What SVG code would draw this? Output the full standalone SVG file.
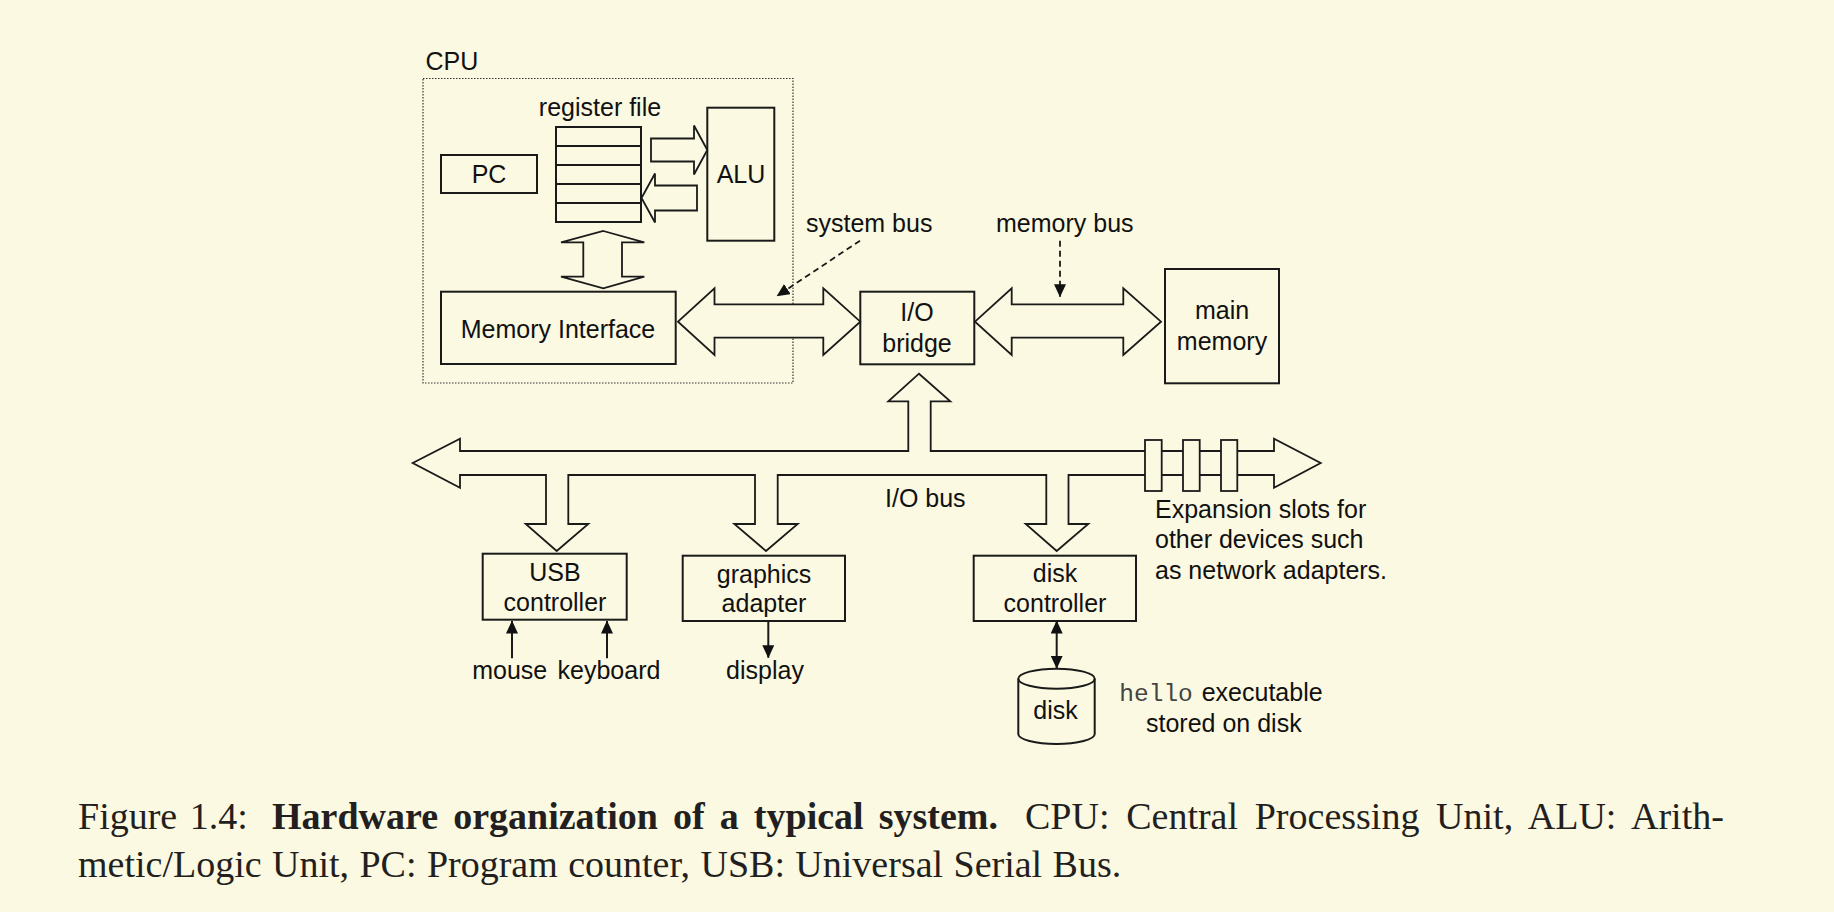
<svg xmlns="http://www.w3.org/2000/svg" width="1834" height="912" viewBox="0 0 1834 912">
<style>
.bg{fill:#FBF9E1}
.box{fill:none;stroke:#1a1a1a;stroke-width:2}
.arw{fill:#FBF9E1;stroke:#1a1a1a;stroke-width:1.8;stroke-linejoin:miter}
.t{font-family:"Liberation Sans",Arial,sans-serif;font-size:25px;fill:#111}
.c{text-anchor:middle}
.mono{font-family:"Liberation Mono","Courier New",monospace;font-size:24.5px;fill:#444}
.cap{font-family:"Liberation Serif","Times New Roman",serif;font-size:38px;fill:#231F20}
.ln{stroke:#1a1a1a;stroke-width:2;fill:none}
.dash{stroke:#1a1a1a;stroke-width:1.8;fill:none;stroke-dasharray:6 4}
</style>
<defs>
<marker id="ah" markerUnits="userSpaceOnUse" markerWidth="13" markerHeight="12" refX="12.5" refY="6" orient="auto-start-reverse">
<path d="M0,0 L13,6 L0,12 z" fill="#111"/>
</marker>
</defs>
<rect class="bg" x="0" y="0" width="1834" height="912"/>

<g id="cpu">
<rect x="423" y="78.5" width="370" height="304.5" fill="none" stroke="#333" stroke-width="1.2" stroke-dasharray="1.5 1.5"/>
<text class="t" x="425.5" y="70">CPU</text>
</g>

<g id="pc">
<rect class="box" x="441" y="155" width="96" height="38"/>
<text class="t c" x="489" y="182.5">PC</text>
</g>

<g id="register-file">
<text class="t c" x="600" y="116">register file</text>
<rect class="box" x="556" y="127" width="85" height="95"/>
<path class="ln" d="M556,146 H641 M556,165 H641 M556,184 H641 M556,203 H641"/>
</g>

<g id="alu">
<rect class="box" x="707.3" y="107.7" width="67" height="133"/>
<text class="t c" x="741" y="183">ALU</text>
</g>

<g id="memory-interface">
<rect class="box" x="441" y="291.7" width="234.7" height="72.3"/>
<text class="t c" x="558" y="337.5">Memory Interface</text>
</g>

<g id="io-bridge">
<rect class="box" x="860.3" y="291.7" width="114" height="72.6"/>
<text class="t c" x="917" y="320.7">I/O</text>
<text class="t c" x="917" y="351.7">bridge</text>
</g>

<g id="main-memory">
<rect class="box" x="1165" y="269" width="114" height="114.3"/>
<text class="t c" x="1222" y="319.3">main</text>
<text class="t c" x="1222" y="350">memory</text>
</g>

<g id="usb-controller">
<rect class="box" x="482.7" y="553.7" width="144" height="66"/>
<text class="t c" x="555" y="580.7">USB</text>
<text class="t c" x="555" y="610.7">controller</text>
</g>

<g id="graphics-adapter">
<rect class="box" x="682.7" y="555.7" width="162.3" height="65.3"/>
<text class="t c" x="764" y="582.7">graphics</text>
<text class="t c" x="764" y="612.3">adapter</text>
</g>

<g id="disk-controller">
<rect class="box" x="973.7" y="555.7" width="162.3" height="65.3"/>
<text class="t c" x="1055" y="582.3">disk</text>
<text class="t c" x="1055" y="612.3">controller</text>
</g>

<g id="disk">
<path class="box" style="fill:#FBF9E1" d="M1018.3,678.7 A38.2,10 0 0 1 1094.7,678.7 V734 A38.2,10 0 0 1 1018.3,734 Z"/>
<path class="box" d="M1018.3,678.7 A38.2,10 0 0 0 1094.7,678.7"/>
<text class="t c" x="1055.5" y="719.3">disk</text>
</g>

<g id="labels">
<text class="t" x="806" y="232.3">system bus</text>
<text class="t" x="996" y="232.3">memory bus</text>
<text class="t" x="885" y="506.5">I/O bus</text>
<text class="t" x="1155" y="517.7">Expansion slots for</text>
<text class="t" x="1155" y="548.3">other devices such</text>
<text class="t" x="1155" y="579">as network adapters.</text>
<text class="t c" x="509.7" y="679">mouse</text>
<text class="t c" x="609" y="679">keyboard</text>
<text class="t c" x="765" y="679">display</text>
<text x="1119.3" y="700.7"><tspan class="mono">hello</tspan><tspan class="t" x="1201.7">executable</tspan></text>
<text class="t" x="1146" y="731.7">stored on disk</text>
</g>

<g id="connectors">
<polygon class="arw" points="651,138.5 694,138.5 694,125.5 707.3,150 694,174.5 694,161.5 651,161.5"/>
<polygon class="arw" points="697,185.5 655,185.5 655,173.5 641.5,198 655,222.5 655,210.5 697,210.5"/>
<polygon class="arw" points="603.3,231 644.3,242.3 622,242.3 622,276.7 644.3,276.7 603.3,288.3 561,276.7 583.3,276.7 583.3,242.3 561,242.3"/>
<polygon class="arw" points="678,321.7 714.5,288.3 714.5,304.3 823.3,304.3 823.3,288.3 860.3,321.7 823.3,355 823.3,337.7 714.5,337.7 714.5,355"/>
<polygon class="arw" points="975,321.7 1011.7,288.3 1011.7,304.3 1123.3,304.3 1123.3,288.3 1161,321.7 1123.3,355 1123.3,337.7 1011.7,337.7 1011.7,355"/>
<polygon class="arw" points="412.7,463 460,438.7 460,451 908.3,451 908.3,401.3 888.3,401.3 919,373.7 950.3,401.3 930.7,401.3 930.7,451 1274,451 1274,438.7 1320.7,463 1274,487.7 1274,475 1068.5,475 1068.5,524 1088.3,524 1056.7,551 1025.7,524 1046.3,524 1046.3,475 777.7,475 777.7,524 797.7,524 766,551 734.3,524 755,524 755,475 568.3,475 568.3,524 588.3,524 556.7,551 525.7,524 546,524 546,475 460,475 460,487.7"/>
<rect class="arw" x="1145" y="440" width="16.7" height="51"/>
<rect class="arw" x="1183" y="440" width="16.7" height="51"/>
<rect class="arw" x="1221" y="440" width="16.3" height="51"/>
<line class="dash" x1="860" y1="240.7" x2="777" y2="296" marker-end="url(#ah)"/>
<line class="dash" x1="1060" y1="240.7" x2="1060" y2="296.7" marker-end="url(#ah)"/>
<line class="ln" x1="512" y1="658.3" x2="512" y2="621" marker-end="url(#ah)"/>
<line class="ln" x1="607" y1="658.3" x2="607" y2="621" marker-end="url(#ah)"/>
<line class="ln" x1="768.3" y1="621" x2="768.3" y2="657.7" marker-end="url(#ah)"/>
<line class="ln" x1="1056.7" y1="621" x2="1056.7" y2="668.3" marker-start="url(#ah)" marker-end="url(#ah)"/>
</g>

<g id="caption">
<text class="cap" x="78" y="829" word-spacing="3">Figure 1.4:</text>
<text class="cap" x="272" y="829" font-weight="bold" word-spacing="5.6">Hardware organization of a typical system.</text>
<text class="cap" x="1025" y="829" word-spacing="7.2">CPU: Central Processing Unit, ALU: Arith-</text>
<text class="cap" x="78" y="876.7" word-spacing="0.9">metic/Logic Unit, PC: Program counter, USB: Universal Serial Bus.</text>
</g>
</svg>
